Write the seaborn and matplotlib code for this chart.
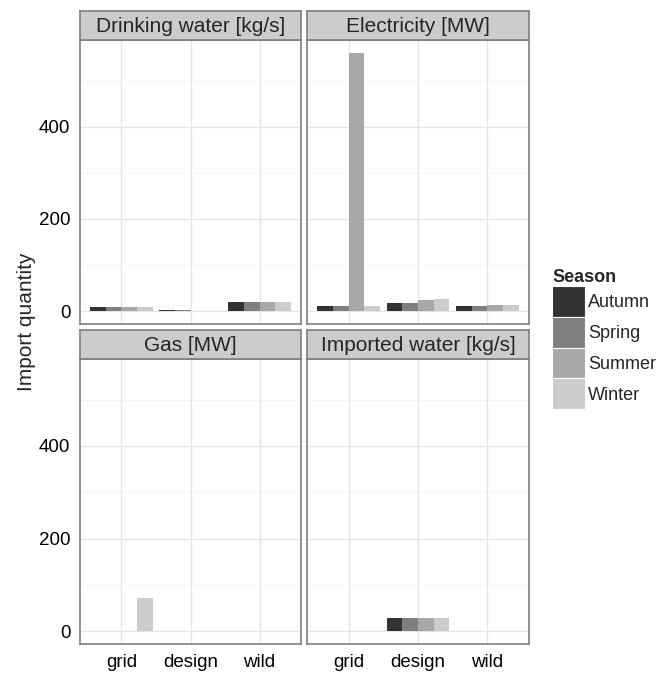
import matplotlib
matplotlib.use("Agg")
import matplotlib.pyplot as plt
import seaborn as sns
import pandas as pd
import numpy as np

# data
facets = ['Drinking water [kg/s]', 'Electricity [MW]', 'Gas [MW]', 'Imported water [kg/s]']
cases = ['grid', 'design', 'wild']
seasons = ['Autumn', 'Spring', 'Summer', 'Winter']

drinking_water = {'grid': [9, 9, 9, 9], 'design': [2, 1.5, 1, 1], 'wild': [19, 19, 19, 19]}
electricity = {'grid': [10, 10, 560, 10], 'design': [17, 17, 24, 26], 'wild': [10, 10, 13, 13]}
gas = {'grid': [1, 0.5, 0.3, 72], 'design': [1, 0.5, 0.3, 0.2], 'wild': [1, 0.5, 0.3, 0.2]}
imported_water = {'grid': [0, 0, 0, 0], 'design': [28, 28, 28, 28], 'wild': [1, 0.5, 0.5, 0.3]}

rows = []
for name, vals in zip(facets, [drinking_water, electricity, gas, imported_water]):
    for c in cases:
        for s, v in zip(seasons, vals[c]):
            rows.append({'facet': name, 'case': c, 'Season': s, 'value': v})
df = pd.DataFrame(rows)

colors = ['#333333', '#7f7f7f', '#a8a8a8', '#cccccc']

sns.set_style('white')
plt.rcParams['font.family'] = ['Liberation Sans', 'DejaVu Sans']

W, H = 658, 675
fig = plt.figure(figsize=(W / 100, H / 100), dpi=100)

# panel boxes in pixels (left, top, right, bottom)
boxes = [(80, 40, 301, 324), (307, 40, 529, 324),
         (80, 359, 301, 644), (307, 359, 529, 644)]
strip_h = 29

for i, (name, (l, t, r, b)) in enumerate(zip(facets, boxes)):
    ax = fig.add_axes([l / W, 1 - b / H, (r - l) / W, (b - t) / H])
    sub = df[df['facet'] == name]
    sns.barplot(data=sub, x='case', y='value', hue='Season', hue_order=seasons,
                order=cases, palette=colors, width=0.9, gap=0, saturation=1,
                edgecolor='none', linewidth=0, ax=ax, legend=False, zorder=3)
    ax.set_xlim(-0.6, 2.6)
    ax.set_ylim(-28, 588)
    ax.set_yticks([0, 200, 400])
    ax.set_yticks([100, 300, 500], minor=True)
    ax.grid(True, which='major', color='#e5e5e5', linewidth=1, zorder=0)
    ax.grid(True, which='minor', axis='y', color='#f2f2f2', linewidth=0.6, zorder=0)
    ax.set_axisbelow(True)
    for sp in ax.spines.values():
        sp.set_color('#7f7f7f')
        sp.set_linewidth(1.2)
    ax.set_xlabel('')
    ax.set_ylabel('')
    ax.tick_params(axis='both', which='major', length=4, width=1.2, color='#333333',
                   labelsize=13.5, labelcolor='black', pad=3)
    ax.tick_params(axis='y', which='minor', length=0)
    if i % 2 == 1:
        ax.tick_params(axis='y', labelleft=False, length=0)
    if i < 2:
        ax.tick_params(axis='x', labelbottom=False, length=0)

    # facet strip
    sax = fig.add_axes([l / W, 1 - t / H, (r - l) / W, strip_h / H])
    sax.set_facecolor('#cccccc')
    sax.set_xticks([])
    sax.set_yticks([])
    for sp in sax.spines.values():
        sp.set_color('#7f7f7f')
        sp.set_linewidth(1.2)
    sax.text(0.5, 0.45, name, ha='center', va='center', fontsize=15, transform=sax.transAxes)

fig.text(27 / W, 1 - 322 / H, 'Import quantity', rotation=90, ha='center', va='center', fontsize=15)

# legend
handles = [plt.Rectangle((0, 0), 1, 1, facecolor=c, edgecolor='white', linewidth=0.8) for c in colors]
leg = fig.legend(handles, seasons, title='Season', loc='upper left',
                 bbox_to_anchor=(552 / W, 1 - 269 / H), frameon=False, fontsize=13,
                 handlelength=1.8, handleheight=2.25, handletextpad=0.2,
                 labelspacing=0.0, borderaxespad=0, borderpad=0)
leg.get_title().set_fontweight('bold')
leg.get_title().set_fontsize(13)
leg._legend_box.align = 'left'

fig.savefig('out.png', dpi=100)
